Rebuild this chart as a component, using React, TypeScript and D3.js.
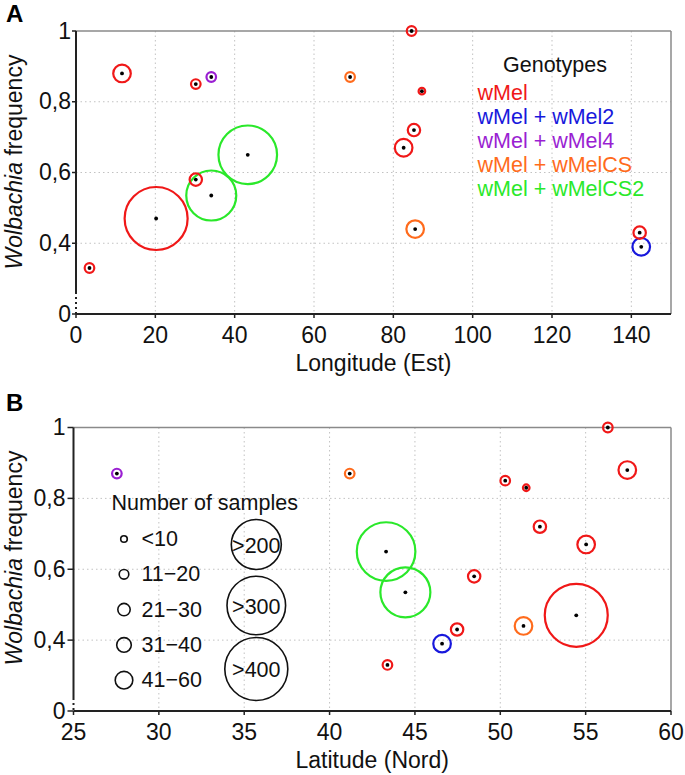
import React from 'react';
import * as d3 from 'd3';

// ---------- data ----------
const genotypes = ['wMel', 'wMel + wMel2', 'wMel + wMel4', 'wMel + wMelCS', 'wMel + wMelCS2'];
const genotypeColors = ['#f01818', '#1818dc', '#9a1fd2', '#ff6b1c', '#2ae82a'];

const longitude = [11.6, 30.2, 34.1, 69.1, 43.3, 30.2, 34.1, 20.2, 3.4, 84.6, 87.2, 85.2, 82.6, 85.5, 142.1, 142.5];
const latitude = [57.44, 50.29, 27.54, 41.18, 43.31, 48.47, 44.44, 54.45, 43.39, 56.3, 51.52, 52.32, 55.03, 51.36, 47.47, 46.59];
const frequency = [0.88, 0.85, 0.87, 0.87, 0.65, 0.58, 0.535, 0.47, 0.33, 1.0, 0.83, 0.72, 0.67, 0.44, 0.43, 0.39];
const genotype = [
  'wMel', 'wMel', 'wMel + wMel4', 'wMel + wMelCS', 'wMel + wMelCS2', 'wMel', 'wMel + wMelCS2', 'wMel',
  'wMel', 'wMel', 'wMel', 'wMel', 'wMel', 'wMel + wMelCS', 'wMel', 'wMel + wMel2',
];
const sampleClass = [
  '41−60', '11−20', '11−20', '11−20', '>300', '21−30', '>200', '>400',
  '11−20', '11−20', '<10', '21−30', '41−60', '41−60', '21−30', '41−60',
];

const smallClasses = ['<10', '11−20', '21−30', '31−40', '41−60'];
const largeClasses = ['>200', '>300', '>400'];

const lonTicks = [0, 20, 40, 60, 80, 100, 120, 140];
const latTicks = [25, 30, 35, 40, 45, 50, 55, 60];
const freqTicks = [0.2, 0.4, 0.6, 0.8, 1];
const freqTickLabels = ['0', '0,4', '0,6', '0,8', '1'];

// ---------- styles ----------
const FONT = '"Liberation Sans", Arial, Helvetica, sans-serif';
const sizeScale = d3
  .scaleOrdinal<string, number>()
  .domain([...smallClasses, ...largeClasses])
  .range([3.3, 4.8, 6.2, 7.3, 8.8, 25, 29.3, 31.5]);
const colorScale = d3.scaleOrdinal<string, string>().domain(genotypes).range(genotypeColors);

const points = frequency.map((f, i) => ({
  lon: longitude[i],
  lat: latitude[i],
  freq: f,
  geno: genotype[i],
  size: sampleClass[i],
}));

type Box = { left: number; right: number; top: number; bottom: number };

function Panel({
  box,
  xDomain,
  xTicks,
  xAcc,
  xTitle,
  letter,
  letterY,
  breakLen,
  yLabelY,
  gridX,
  tickLen,
  labelGap,
  children,
}: {
  box: Box;
  xDomain: [number, number];
  xTicks: number[];
  xAcc: (p: any) => number;
  xTitle: string;
  letter: string;
  letterY: number;
  breakLen: number;
  yLabelY: number;
  gridX: number[];
  tickLen: number;
  labelGap: number;
  children?: React.ReactNode;
}) {
  const x = d3.scaleLinear().domain(xDomain).range([box.left, box.right]);
  const y = d3.scaleLinear().domain([0.2, 1]).range([box.bottom, box.top]);
  const sorted = [...points].sort((a, b) => sizeScale(b.size) - sizeScale(a.size));
  const cx = (box.left + box.right) / 2;
  return (
    <g>
      <text x={6} y={letterY} fontFamily={FONT} fontWeight="bold" fontSize={24}>
        {letter}
      </text>
      {/* grid */}
      {gridX.map((t) => (
        <line key={'gx' + t} x1={x(t)} x2={x(t)} y1={box.top} y2={box.bottom} stroke="#c2c2c2" strokeWidth={1} strokeDasharray="1.5 3" />
      ))}
      {[0.4, 0.6, 0.8].map((t) => (
        <line key={'gy' + t} x1={box.left} x2={box.right} y1={y(t)} y2={y(t)} stroke="#c2c2c2" strokeWidth={1} strokeDasharray="1.5 3" />
      ))}
      {/* frame top/right */}
      <line x1={box.left} x2={box.right} y1={box.top} y2={box.top} stroke="#8a8a8a" strokeWidth={1.5} />
      <line x1={box.right} x2={box.right} y1={box.top} y2={box.bottom} stroke="#8a8a8a" strokeWidth={1.5} />
      {/* y axis with break */}
      <line x1={box.left} x2={box.left} y1={box.top} y2={box.bottom - breakLen} stroke="#222" strokeWidth={2} />
      <line x1={box.left} x2={box.left} y1={box.bottom - breakLen} y2={box.bottom} stroke="#222" strokeWidth={2} strokeDasharray="2 3" />
      {freqTicks.map((t, i) => (
        <g key={'yt' + t}>
          <line x1={box.left - tickLen} x2={box.left} y1={y(t)} y2={y(t)} stroke="#222" strokeWidth={1.5} />
          <text x={box.left - labelGap} y={y(t) + 7.5} textAnchor="end" fontFamily={FONT} fontSize={23} fill="#111">
            {freqTickLabels[i]}
          </text>
        </g>
      ))}
      {/* x axis */}
      <line x1={box.left} x2={box.right} y1={box.bottom} y2={box.bottom} stroke="#222" strokeWidth={2} />
      {xTicks.map((t) => (
        <g key={'xt' + t}>
          <line x1={x(t)} x2={x(t)} y1={box.bottom} y2={box.bottom + 4} stroke="#222" strokeWidth={1.5} />
          <text x={x(t)} y={box.bottom + 29} textAnchor="middle" fontFamily={FONT} fontSize={23} fill="#111">
            {t}
          </text>
        </g>
      ))}
      <text x={cx} y={box.bottom + 57} textAnchor="middle" fontFamily={FONT} fontSize={23} fill="#111">
        {xTitle}
      </text>
      <text transform={`translate(22,${yLabelY}) rotate(-90)`} textAnchor="middle" fontFamily={FONT} fontSize={23} fill="#111">
        <tspan fontStyle="italic">Wolbachia</tspan> frequency
      </text>
      {/* points */}
      {sorted.map((p, i) => (
        <g key={'p' + i}>
          <circle cx={x(xAcc(p))} cy={y(p.freq)} r={sizeScale(p.size)} fill="none" stroke={colorScale(p.geno)} strokeWidth={2.2} />
          <circle cx={x(xAcc(p))} cy={y(p.freq)} r={1.9} fill="#000" />
        </g>
      ))}
      {children}
    </g>
  );
}

export default function App() {
  const boxA: Box = { left: 76, right: 671, top: 31, bottom: 314 };
  const boxB: Box = { left: 73.5, right: 671, top: 427.5, bottom: 711 };
  return (
    <svg width={685} height={775} style={{ position: 'absolute', left: 0, top: 0, background: '#fff' }}>
      <rect width={685} height={775} fill="#fff" />
      <Panel
        box={boxA}
        xDomain={[0, 150]}
        xTicks={lonTicks}
        xAcc={(p) => p.lon}
        xTitle="Longitude (Est)"
        letter="A"
        letterY={22}
        breakLen={22}
        yLabelY={162}
        gridX={lonTicks.slice(1)}
        tickLen={4}
        labelGap={5}
      >
        <g fontFamily={FONT} fontSize={21.5}>
          <text x={503} y={72} fill="#111">Genotypes</text>
          {genotypes.map((g, i) => (
            <text key={g} x={477.5} y={99.5 + i * 24.2} fill={colorScale(g)}>
              {g}
            </text>
          ))}
        </g>
      </Panel>
      <Panel
        box={boxB}
        xDomain={[25, 60]}
        xTicks={latTicks}
        xAcc={(p) => p.lat}
        xTitle="Latitude (Nord)"
        letter="B"
        letterY={411}
        breakLen={13}
        yLabelY={558}
        gridX={latTicks.slice(1, -1)}
        tickLen={6}
        labelGap={8}
      >
        <g fontFamily={FONT} fontSize={21.5} fill="#111">
          <text x={111.5} y={509.5}>Number of samples</text>
          {smallClasses.map((c, i) => (
            <g key={c}>
              <circle cx={124} cy={539 + i * 35.3} r={sizeScale(c)} fill="none" stroke="#111" strokeWidth={1.6} />
              <text x={141.5} y={546 + i * 35.3}>{c}</text>
            </g>
          ))}
          {largeClasses.map((c, i) => {
            const cy = [544.5, 605.5, 669][i];
            return (
              <g key={c}>
                <circle cx={256.3} cy={cy} r={sizeScale(c)} fill="none" stroke="#111" strokeWidth={1.6} />
                <text x={256.3} y={cy + 8} textAnchor="middle">{c}</text>
              </g>
            );
          })}
        </g>
      </Panel>
    </svg>
  );
}
